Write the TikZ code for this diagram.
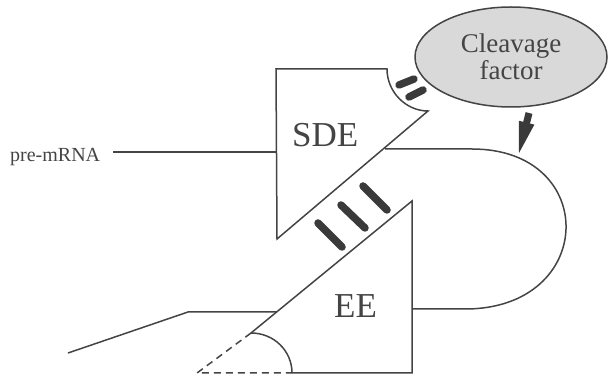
\documentclass[tikz,border=0pt]{standalone}
\usepackage{fontspec}
\setmainfont{Liberation Serif}
\usetikzlibrary{shapes.geometric}
\definecolor{ink}{HTML}{444444}
\definecolor{barc}{HTML}{3A3A3A}
\definecolor{cfill}{HTML}{D9D9D9}
\tikzset{
  outline/.style={draw=ink, line width=1.5pt, line join=miter},
  dashline/.style={draw=ink, line width=1.5pt, dash pattern=on 7pt off 5pt},
  bar/.style={draw=barc, line width=7.5pt, line cap=round},
  bigtext/.style={font=\rmfamily\fontsize{35}{40}\selectfont, text=ink, inner sep=0pt},
  smalltext/.style={font=\rmfamily\fontsize{20}{24}\selectfont, text=ink, inner sep=0pt},
  cfnode/.style={ellipse, draw=ink, line width=1.5pt, fill=cfill, minimum width=192pt, minimum height=100pt, inner sep=0pt, align=center, text=ink, font=\rmfamily\fontsize{27}{27}\selectfont}
}
\begin{document}
\begin{tikzpicture}[x=1pt,y=-1pt]
\useasboundingbox (0,0) rectangle (608,379);
% coordinates
\coordinate (sdeTL) at (276,69);
\coordinate (sdeTR) at (387,69);
\coordinate (sdeR) at (428,111);
\coordinate (sdeB) at (277,239);
\coordinate (eeT) at (412,201);
\coordinate (eeBR) at (412,373);
\coordinate (eeArcB) at (292,373);
\coordinate (eeArcT) at (251,333);
\coordinate (eeDash) at (197,373);
\coordinate (preL) at (113,152);
\coordinate (preR) at (277,152);
\coordinate (dStart) at (385,149);
\coordinate (dEnd) at (412,309);
\coordinate (lowA) at (68,353);
\coordinate (lowB) at (188,312);
\coordinate (lowC) at (277,312);
% SDE shape
\filldraw[outline, fill=white] (sdeTL) -- (sdeTR) .. controls (387,92) and (406,111) .. (sdeR) -- (sdeB) -- cycle;
% EE shape
\draw[outline] (eeArcT) -- (eeT) -- (eeBR) -- (eeArcB);
\draw[outline] (eeArcT) .. controls (274,333) and (292,351) .. (eeArcB);
\draw[dashline] (eeArcT) -- (eeDash) -- (eeArcB);
% RNA lines
\draw[outline] (preL) -- (preR);
\draw[outline] (dStart) -- (472,149) .. controls (600,149) and (597,309) .. (465,309) -- (dEnd);
\draw[outline] (lowA) -- (lowB) -- (lowC);
% bars
\draw[bar] (399,85) -- (414,79);
\draw[bar] (409,97) -- (423,90);
\draw[bar] (318,223) -- (342,247);
\draw[bar] (341,205) -- (365,228);
\draw[bar] (363,186) -- (387,210);
% cleavage factor
\node[cfnode] (cf) at (511,57) {Cleavage\\factor};
\fill[barc] (525.6,112.1) -- (532.4,113.9) -- (530.0,123.6) -- (534.4,124.6) -- (519,153) -- (518.8,120.8) -- (523.2,121.8) -- cycle;
% labels
\node[bigtext, anchor=base west] (sde) at (292,147) {SDE};
\node[bigtext, anchor=base west] (ee) at (334,318) {EE};
\node[smalltext, anchor=base west] (pre) at (10,162) {pre-mRNA};
\end{tikzpicture}
\end{document}
